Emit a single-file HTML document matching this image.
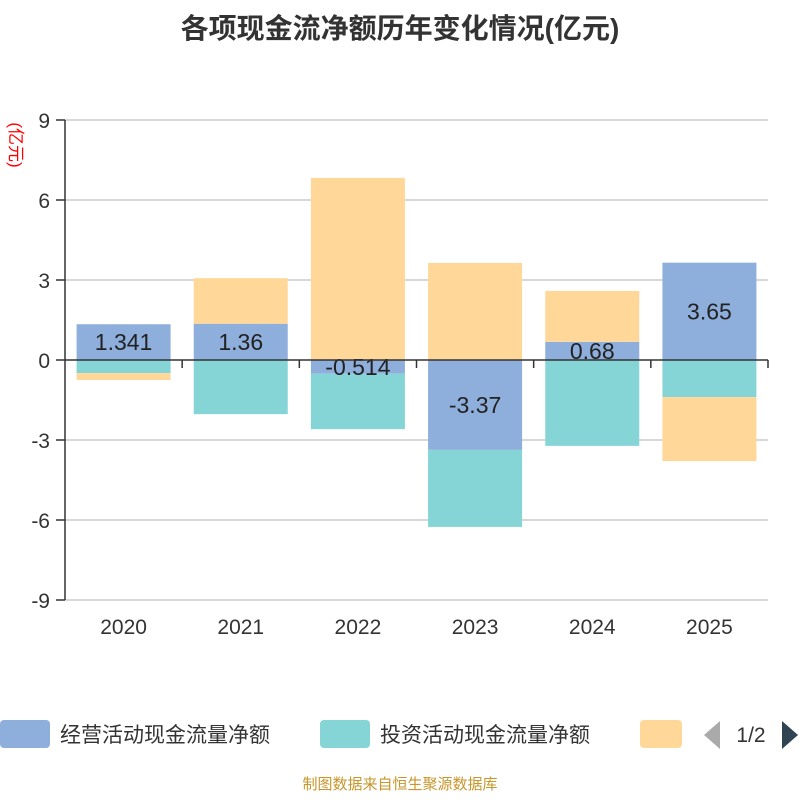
<!DOCTYPE html>
<html><head><meta charset="utf-8"><style>
body{margin:0;background:#fff;width:800px;height:800px;overflow:hidden;font-family:"Liberation Sans","Noto Sans CJK SC",sans-serif}
</style></head><body>
<svg id="c" width="800" height="800" xmlns="http://www.w3.org/2000/svg" font-family="Liberation Sans, Noto Sans CJK SC, sans-serif">
<text x="400" y="38" text-anchor="middle" font-size="28" font-weight="bold" fill="#333">各项现金流净额历年变化情况(亿元)</text>
<text transform="translate(10,145) rotate(90)" text-anchor="middle" font-size="17" fill="#f00">(亿元)</text>
<g id="grid"></g><g id="bars"></g><g id="axes"></g>
<g>
<rect x="0" y="720" width="50" height="28" rx="4" fill="#8eaedc"/>
<text x="60" y="742" font-size="21" fill="#333">经营活动现金流量净额</text>
<rect x="320" y="720" width="50" height="28" rx="4" fill="#85d5d7"/>
<text x="380" y="742" font-size="21" fill="#333">投资活动现金流量净额</text>
<rect x="640" y="720" width="42" height="28" rx="4" fill="#ffd899"/>
<polygon points="720,721 720,749 704,735" fill="#aaa"/>
<text x="751" y="742" text-anchor="middle" font-size="21" fill="#333">1/2</text>
<polygon points="782,721 782,749 798,735" fill="#2f4554"/>
</g>
<text x="400" y="789" text-anchor="middle" font-size="15" fill="#c8962a">制图数据来自恒生聚源数据库</text>
</svg>
<script>
const categories=["2020","2021","2022","2023","2024","2025"];
const operating=[1.341,1.36,-0.514,-3.37,0.68,3.65];
const operatingLabels=["1.341","1.36","-0.514","-3.37","0.68","3.65"];
const investing=[-0.49,-2.03,-2.08,-2.89,-3.22,-1.39];
const financing=[-0.26,1.71,6.83,3.64,1.91,-2.4];
const yTicks=[9,6,3,0,-3,-6,-9];
const colors=["#8eaedc","#85d5d7","#ffd899"];
const NS="http://www.w3.org/2000/svg";
const x0=65,x1=768,yMin=-9,yMax=9,plotTop=120,plotBot=600;
const y=v=>plotTop+(yMax-v)/(yMax-yMin)*(plotBot-plotTop);
const band=(x1-x0)/categories.length,bw=94;
function mk(t,a,p){const e=document.createElementNS(NS,t);for(const k in a)e.setAttribute(k,a[k]);p.appendChild(e);return e;}
const grid=document.getElementById('grid'),bars=document.getElementById('bars'),axes=document.getElementById('axes');
yTicks.forEach(t=>{
 if(t!==0){const l=mk('line',{x1:x0,x2:x1,y1:y(t),y2:y(t),stroke:'#ccc','stroke-width':1.5},grid);
 
 }
 const tk=mk('line',{x1:56,x2:x0,y1:y(t),y2:y(t),stroke:'#333','stroke-width':1.5},axes);
 
 
 const tx=mk('text',{x:50,y:y(t)+8,'text-anchor':'end','font-size':21,fill:'#333'},axes);
 tx.textContent=t;
 
 
});
const series=[operating,investing,financing];
const names=['operating','investing','financing'];
categories.forEach((c,i)=>{
 let pos=0,neg=0;const bx=x0+band*i+(band-bw)/2;
 series.forEach((s,k)=>{
  const v=s[i];let a,b;
  if(v>=0){a=pos;b=pos+v;pos=b;}else{a=neg;b=neg+v;neg=b;}
  const r=mk('rect',{x:bx,width:bw,y:Math.min(y(a),y(b)),height:Math.abs(y(a)-y(b)),fill:colors[k]},bars);
  
  
 });
 const v=operating[i];
 const lt=mk('text',{x:bx+bw/2,y:y(v/2)+8,'text-anchor':'middle','font-size':23,fill:'#222'},bars);
 lt.textContent=operatingLabels[i];
 
 
 const xt=mk('text',{x:x0+band*(i+0.5),y:634,'text-anchor':'middle','font-size':21,fill:'#333'},axes);
 xt.textContent=c;
 
 
 const xk=mk('line',{x1:x0+band*(i+1),x2:x0+band*(i+1),y1:y(0),y2:y(0)+8,stroke:'#333','stroke-width':1.5},axes);
 
 
});
const xa=mk('line',{x1:x0,x2:x1,y1:y(0),y2:y(0),stroke:'#333','stroke-width':1.5},axes);


const ya=mk('line',{x1:x0,x2:x0,y1:plotTop,y2:plotBot,stroke:'#333','stroke-width':1.5},axes);


</script>
</body></html>
